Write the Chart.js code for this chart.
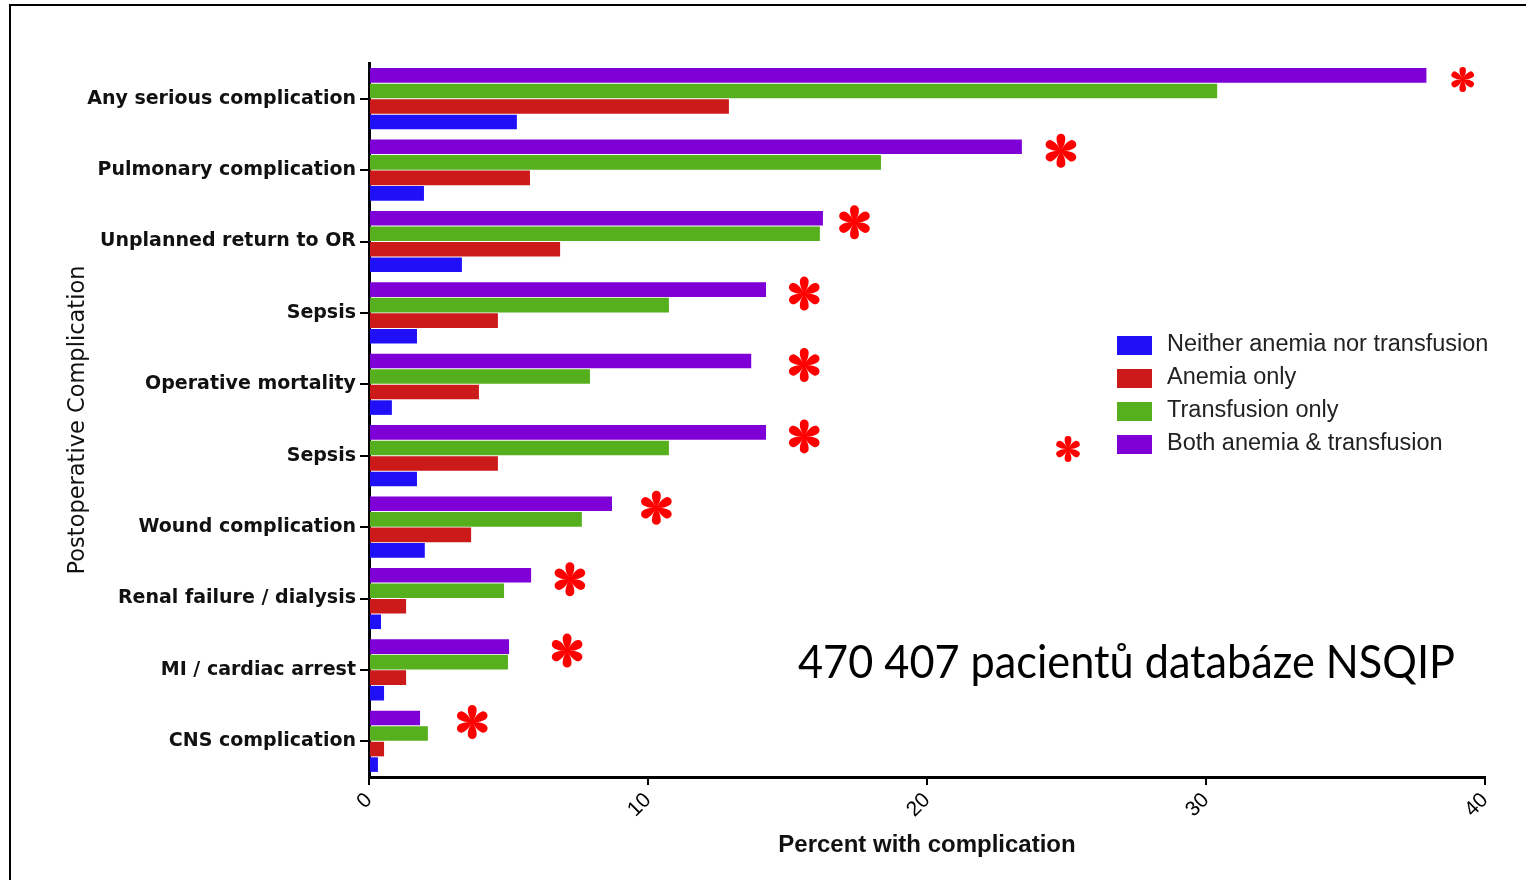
<!DOCTYPE html>
<html lang="cs">
  <head>
    <title>Postoperative complications</title>
    <meta charset="UTF-8" />
    <script src="https://cdn.jsdelivr.net/npm/chart.js@4.4.1/dist/chart.umd.min.js"></script>
    <style>
      html, body { margin: 0; padding: 0; background: #fff; overflow: hidden; }
      #wrap { position: relative; width: 1526px; height: 880px; }
      #frame { position: absolute; left: 9px; top: 4px; width: 1540px; height: 900px; border: 2px solid #000; box-sizing: border-box; }
      canvas { position: absolute; left: 0; top: 0; }
    </style>
  </head>
  <body>
    <div id="wrap">
      <div id="frame"></div>
      <canvas id="grafico" width="1526" height="880"></canvas>
    </div>
    <script>
      // data (percent with complication)
      const categories = [
        'Any serious complication',
        'Pulmonary complication',
        'Unplanned return to OR',
        'Sepsis',
        'Operative mortality',
        'Sepsis',
        'Wound complication',
        'Renal failure / dialysis',
        'MI / cardiac arrest',
        'CNS complication',
      ];
      const neither = [5.3, 1.97, 3.33, 1.72, 0.82, 1.72, 2.0, 0.43, 0.54, 0.32];
      const anemiaOnly = [12.9, 5.77, 6.85, 4.62, 3.94, 4.62, 3.66, 1.33, 1.33, 0.54];
      const transfusionOnly = [30.4, 18.35, 16.16, 10.75, 7.92, 10.75, 7.63, 4.84, 4.98, 2.11];
      const bothAnemiaTransfusion = [37.9, 23.4, 16.27, 14.23, 13.7, 14.23, 8.71, 5.81, 5.02, 1.83];
      // where the significance asterisk sits on the value axis
      const starAt = [39.2, 24.8, 17.4, 15.6, 15.6, 15.6, 10.3, 7.2, 7.1, 3.7];
      const xTicks = [0, 10, 20, 30, 40];
      const note = '470 407 pacientů databáze NSQIP';

      // red six-lobed asterisk
      function drawStar(ctx, x, y, r) {
        ctx.save();
        ctx.translate(x, y);
        ctx.fillStyle = '#ff0000';
        var w = r * 0.26;
        var tip = r - w;
        for (var k = 0; k < 6; k++) {
          ctx.save();
          ctx.rotate(-Math.PI / 2 + (k * Math.PI) / 3);
          ctx.beginPath();
          ctx.moveTo(0, 0);
          ctx.quadraticCurveTo(tip * 0.55, -w * 1.05, tip, -w);
          ctx.arc(tip, 0, w, -Math.PI / 2, Math.PI / 2);
          ctx.quadraticCurveTo(tip * 0.55, w * 1.05, 0, 0);
          ctx.fill();
          ctx.restore();
        }
        ctx.beginPath();
        ctx.arc(0, 0, w * 0.6, 0, Math.PI * 2);
        ctx.fill();
        ctx.restore();
      }

      var extras = {
        id: 'extras',
        afterDatasetsDraw: function (chart) {
          var ctx = chart.ctx;
          var xs = chart.scales.x;
          // asterisks next to the purple bars
          var meta = chart.getDatasetMeta(0);
          meta.data.forEach(function (bar, i) {
            var r = i === 0 ? 12.5 : 17;
            drawStar(ctx, xs.getPixelForValue(starAt[i]), bar.y + 4, r);
          });

          // legend, blue first
          var ds = chart.data.datasets.slice().reverse();
          ctx.save();
          ctx.font = '23.5px "Liberation Sans", Arial, sans-serif';
          ctx.textBaseline = 'middle';
          ds.forEach(function (d, i) {
            var y = 345 + i * 33;
            ctx.fillStyle = d.backgroundColor;
            ctx.fillRect(1117, y - 9, 35, 19);
            ctx.fillStyle = '#222';
            ctx.fillText(d.label, 1167, y);
          });
          ctx.restore();
          drawStar(ctx, 1068, 449, 13);

          // note text
          ctx.save();
          ctx.font = '46px Lato, "Open Sans", sans-serif';
          ctx.fillStyle = '#000';
          ctx.textBaseline = 'alphabetic';
          var tw = ctx.measureText(note).width;
          ctx.translate(798, 678);
          ctx.scale(657 / tw, 1);
          ctx.fillText(note, 0, 0);
          ctx.restore();
        },
      };

      var canvas = document.getElementById('grafico');
      var chart = new Chart(canvas, {
        type: 'bar',
        data: {
          labels: categories,
          datasets: [
            { label: 'Both anemia & transfusion', data: bothAnemiaTransfusion, backgroundColor: '#7f00d6' },
            { label: 'Transfusion only', data: transfusionOnly, backgroundColor: '#56b01e' },
            { label: 'Anemia only', data: anemiaOnly, backgroundColor: '#cc1a1a' },
            { label: 'Neither anemia nor transfusion', data: neither, backgroundColor: '#2010f8' },
          ],
        },
        options: {
          indexAxis: 'y',
          responsive: false,
          animation: false,
          categoryPercentage: 0.87,
          barPercentage: 0.94,
          layout: { padding: { top: 63, right: 41, left: 0, bottom: 0 } },
          plugins: {
            legend: { display: false },
            tooltip: { enabled: false },
          },
          scales: {
            y: {
              afterFit: function (s) { s.width = 369; },
              grid: { display: true, drawOnChartArea: false, offset: false, tickLength: 9, color: '#000', lineWidth: 2 },
              border: { display: true, color: '#000', width: 3 },
              ticks: {
                color: '#111',
                padding: 4,
                font: { family: '"DejaVu Sans", sans-serif', size: 19, weight: 'bold' },
              },
              title: {
                display: true,
                text: 'Postoperative Complication',
                color: '#111',
                font: { family: '"DejaVu Sans", sans-serif', size: 22.5 },
                padding: { top: 65, bottom: 0 },
              },
            },
            x: {
              min: 0,
              max: 40,
              afterFit: function (s) { s.height = 103; },
              afterBuildTicks: function (s) {
                s.ticks = xTicks.map(function (v) { return { value: v }; });
              },
              grid: { display: true, drawOnChartArea: false, tickLength: 8, color: '#000', lineWidth: 2 },
              border: { display: true, color: '#000', width: 3 },
              ticks: {
                color: '#000',
                minRotation: 45,
                maxRotation: 45,
                padding: 3,
                font: { family: '"Liberation Sans", Arial, sans-serif', size: 21 },
              },
              title: {
                display: true,
                text: 'Percent with complication',
                color: '#111',
                font: { family: '"Liberation Sans", Arial, sans-serif', size: 24, weight: 'bold' },
                padding: { top: 0, bottom: 20 },
              },
            },
          },
        },
        plugins: [extras],
      });
    </script>
  </body>
</html>
